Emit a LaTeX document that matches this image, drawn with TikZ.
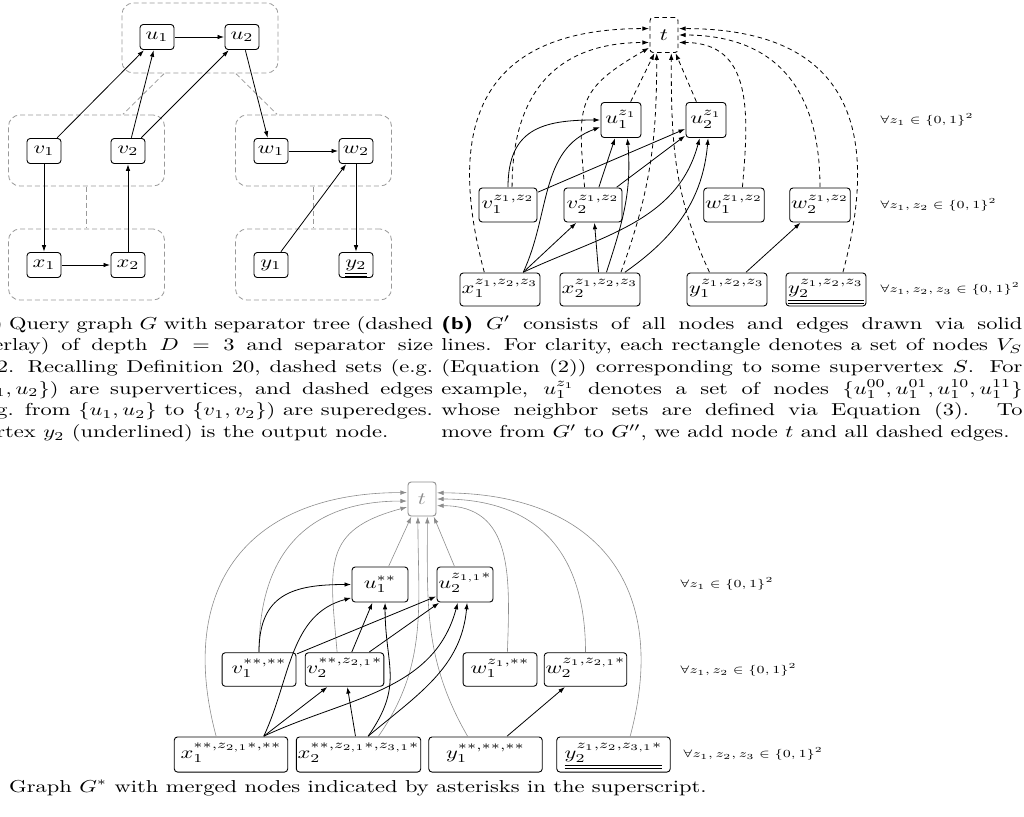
\documentclass[tikz,border=0pt]{standalone}
\usepackage{amsmath}
\usetikzlibrary{arrows.meta}
\definecolor{sepgray}{gray}{0.6}
\definecolor{tgray}{gray}{0.55}
\newcommand{\capfont}{\fontsize{10}{12}\selectfont}
\newcommand{\rowfont}{\fontsize{7}{8}\selectfont}
\newcommand{\sublabel}[1]{\textsf{\textbf{(#1)}}}
\newcommand{\capline}[4]{\node[capnode] at (#1,#2) {\makebox[#3][s]{#4}};}
\tikzset{
  vtx/.style={draw, line width=0.9pt, rounded corners=3.2pt, inner sep=0.6pt},
  sa/.style={vtx, minimum width=15.1pt, minimum height=14.5pt, text height=4.3pt, text depth=1.7pt},
  sbu/.style={vtx, minimum width=17.8pt, minimum height=20.3pt, text height=6.4pt, text depth=2.3pt},
  sbv/.style={vtx, minimum width=25.8pt, minimum height=19.7pt, text height=6.4pt, text depth=2.3pt},
  sbx/.style={vtx, minimum width=35.6pt, minimum height=19.1pt, text height=6.4pt, text depth=2.3pt},
  scu/.style={vtx, minimum width=24.9pt, minimum height=20.3pt, text height=6.4pt, text depth=2.3pt},
  scv/.style={vtx, minimum width=32.9pt, minimum height=19.4pt, text height=6.4pt, text depth=2.3pt},
  scx/.style={vtx, minimum width=50.5pt, minimum height=20.3pt, text height=6.4pt, text depth=2.3pt},
  tb/.style={vtx, dash pattern=on 4.5pt off 3.5pt, minimum width=12.5pt, minimum height=20.3pt},
  tc/.style={vtx, draw=tgray, text=tgray, minimum width=12.5pt, minimum height=19.7pt},
  sepbox/.style={draw=sepgray, line width=0.8pt, dash pattern=on 5pt off 3pt, rounded corners=11.5pt, minimum width=69.5pt, minimum height=41.1pt},
  sepline/.style={draw=sepgray, line width=0.8pt, dash pattern=on 5pt off 3pt},
  arr/.style={->, line width=0.8pt},
  tarr/.style={->, line width=0.8pt, dash pattern=on 4.5pt off 3.5pt},
  garr/.style={->, line width=0.6pt, draw=tgray},
  rowlab/.style={anchor=west, inner sep=0pt, font=\rowfont, scale=0.9},
  capnode/.style={anchor=base west, inner sep=0pt},
}
\begin{document}
\begin{tikzpicture}[x=1pt, y=-1pt, font=\capfont,
  every node/.append style={xscale=2.246, yscale=1.728},
  >={Latex[length=6.5pt,width=4.5pt]}]
\useasboundingbox (0,0) rectangle (1024,816);
\clip (0,0) rectangle (1024,816);

% (a) separator tree
\node[sepbox, minimum height=40.5pt] (sepU) at (200,38) {};
\node[sepbox] (sepV) at (86.5,150.5) {};
\node[sepbox] (sepW) at (313.5,150.5) {};
\node[sepbox] (sepX) at (86.5,264.5) {};
\node[sepbox] (sepY) at (313.5,264.5) {};
\draw[sepline] (sepU) -- (sepV);
\draw[sepline] (sepU) -- (sepW);
\draw[sepline] (sepV) -- (sepX);
\draw[sepline] (sepW) -- (sepY);

% (a) query graph
\node[sa] (u1) at (157,37) {$u_1$};
\node[sa] (u2) at (242,37) {$u_2$};
\node[sa] (v1) at (44,151) {$v_1$};
\node[sa] (v2) at (128,151) {$v_2$};
\node[sa] (w1) at (271,151) {$w_1$};
\node[sa] (w2) at (356,151) {$w_2$};
\node[sa] (x1) at (44,265) {$x_1$};
\node[sa] (x2) at (128,265) {$x_2$};
\node[sa] (y1) at (271,265) {$y_1$};
\node[sa] (y2) at (356,265) {$\underline{\underline{y_2}}$};
\draw[arr] (u1) -- (u2);
\draw[arr] (v1) -- (u1);
\draw[arr] (v2) -- (u1);
\draw[arr] (v2) -- (u2);
\draw[arr] (u2) -- (w1);
\draw[arr] (w1) -- (w2);
\draw[arr] (v1) -- (x1);
\draw[arr] (x2) -- (v2);
\draw[arr] (x1) -- (x2);
\draw[arr] (y1) -- (w2);
\draw[arr] (w2) -- (y2);

% (b) G' and G''
\node[tb] (bt) at (664,35) {$t$};
\node[sbu] (bu1) at (621,120) {$u_1^{z_1}$};
\node[sbu] (bu2) at (706,120) {$u_2^{z_1}$};
\node[sbv] (bv1) at (508,205) {$v_1^{z_1,z_2}$};
\node[sbv] (bv2) at (593,205) {$v_2^{z_1,z_2}$};
\node[sbv] (bw1) at (734,205) {$w_1^{z_1,z_2}$};
\node[sbv] (bw2) at (820,205) {$w_2^{z_1,z_2}$};
\node[sbx] (bx1) at (500,289.5) {$x_1^{z_1,z_2,z_3}$};
\node[sbx] (bx2) at (600,289.5) {$x_2^{z_1,z_2,z_3}$};
\node[sbx] (by1) at (727,289.5) {$y_1^{z_1,z_2,z_3}$};
\node[sbx] (by2) at (826,289.5) {$\underline{\underline{y_2^{z_1,z_2,z_3}}}$};
\node[rowlab] (brow1) at (880,120) {$\forall z_1 \in \{0,1\}^2$};
\node[rowlab] (brow2) at (880,205) {$\forall z_1, z_2 \in \{0,1\}^2$};
\node[rowlab] (brow3) at (880,289) {$\forall z_1, z_2, z_3 \in \{0,1\}^2$};
% solid edges
\draw[arr] (bv1.north) to[out=90,in=180,looseness=1.3] (bu1.west);
\draw[arr] (bv1) -- (bu2);
\draw[arr] (bv2) -- (bu1);
\draw[arr] (bv2) -- (bu2);
\draw[arr] (bx1.44) to[out=65,in=200] (bu1.204);
\draw[arr] (bx1.44) -- (bv2.234);
\draw[arr] (bx1.44) to[out=25,in=-105] (bu2.255);
\draw[arr] (bx2) -- (bv2);
\draw[arr] (bx2.74) to[out=72,in=-85] (bu1.285);
\draw[arr] (bx2.42) to[out=35,in=-95] (bu2.275);
\draw[arr] (by1) -- (bw2);
% dashed edges into t
\draw[tarr] (bx1.125) to[out=105,in=180,looseness=1.4] (bt.151);
\draw[tarr] (bv1.80) to[out=90,in=180,looseness=1.2] (bt.213);
\draw[tarr] (bv2.110) to[out=95,in=210,looseness=1.4] (bt.228);
\draw[tarr] (bu1.68) -- (bt.248);
\draw[tarr] (bx2.47) to[out=70,in=-90] (bt.253);
\draw[tarr] (by1.128) to[out=115,in=-90] (bt.287);
\draw[tarr] (bu2.112) -- (bt.296);
\draw[tarr] (bw1.70) to[out=85,in=0,looseness=1.2] (bt.327);
\draw[tarr] (bw2.north) to[out=90,in=0,looseness=1.2] (bt.east);
\draw[tarr] (by2.53) to[out=75,in=0,looseness=1.4] (bt.29);

% (c) G*
\node[tc] (ct) at (422,499) {$t$};
\node[scu] (cu1) at (380,584.5) {$u_1^{**}$};
\node[scu] (cu2) at (465,584.5) {$u_2^{z_{1,1}*}$};
\node[scv] (cv1) at (259,669.5) {$v_1^{**,**}$};
\node[scv] (cv2) at (344.5,669.5) {$v_2^{**,z_{2,1}*}$};
\node[scv] (cw1) at (500,669.5) {$w_1^{z_1,**}$};
\node[scv] (cw2) at (585.5,669.5) {$w_2^{z_1,z_{2,1}*}$};
\node[scx] (cx1) at (231,754.5) {$x_1^{**,z_{2,1}*,**}$};
\node[scx] (cx2) at (358.5,754.5) {$x_2^{**,z_{2,1}*,z_{3,1}*}$};
\node[scx] (cy1) at (485.5,754.5) {$y_1^{**,**,**}$};
\node[scx] (cy2) at (613.5,754.5) {$\underline{\underline{y_2^{z_1,z_2,z_{3,1}*}}}$};
\node[rowlab] (crow1) at (680,584) {$\forall z_1 \in \{0,1\}^2$};
\node[rowlab] (crow2) at (680,670) {$\forall z_1, z_2 \in \{0,1\}^2$};
\node[rowlab] (crow3) at (683,754) {$\forall z_1, z_2, z_3 \in \{0,1\}^2$};
% grey edges into t
\draw[garr] (cx1.122) to[out=105,in=180,looseness=1.3] (ct.151);
\draw[garr] (cv1.north) to[out=90,in=180,looseness=1.2] (ct.190);
\draw[garr] (cv2.108) to[out=95,in=195,looseness=1.4] (ct.215);
\draw[garr] (cu1.70) -- (ct.245);
\draw[garr] (cx2.50) to[out=55,in=-90] (ct.260);
\draw[garr] (cy1.127) to[out=120,in=-90] (ct.283);
\draw[garr] (cu2.114) -- (ct.297);
\draw[garr] (cw1.72) to[out=88,in=0,looseness=1.2] (ct.330);
\draw[garr] (cw2.north) to[out=90,in=0,looseness=1.2] (ct.east);
\draw[garr] (cy2.55) to[out=75,in=0,looseness=1.3] (ct.28);
% black edges
\draw[arr] (cv1.north) to[out=90,in=180,looseness=1.3] (cu1.west);
\draw[arr] (cv1) -- (cu2);
\draw[arr] (cv2) -- (cu1);
\draw[arr] (cv2) -- (cu2);
\draw[arr] (cx1.36) to[out=65,in=195] (cu1.211);
\draw[arr] (cx1.36) -- (cv2.233);
\draw[arr] (cx1.36) to[out=25,in=-105] (cu2.253);
\draw[arr] (cx2) -- (cv2);
\draw[arr] (cx2.68) to[out=55,in=-90,looseness=1.2] (cu1.282);
\draw[arr] (cx2.68) to[out=40,in=-95] (cu2.275);
\draw[arr] (cy1) -- (cw2);

% captions
\capline{-29}{329}{205.5pt}{\sublabel{a} Query graph $G$ with separator tree (dashed}
\capline{-29}{350.7}{205.5pt}{overlay) of depth $D = 3$ and separator size}
\capline{-29}{372.4}{205.5pt}{$\leq 2$. Recalling Definition 20, dashed sets (e.g.}
\capline{-29}{394.1}{205.5pt}{$\{u_1, u_2\}$) are supervertices, and dashed edges}
\capline{-29}{415.8}{205.5pt}{(e.g. from $\{u_1, u_2\}$ to $\{v_1, v_2\}$) are superedges.}
\node[capnode] (capa) at (-29,437.5) {Vertex $y_2$ (underlined) is the output node.};
\capline{441}{329}{258.7pt}{\sublabel{b} $G'$ consists of all nodes and edges drawn via solid}
\capline{441}{350.7}{258.7pt}{lines. For clarity, each rectangle denotes a set of nodes $V_S$}
\capline{441}{372.4}{258.7pt}{(Equation (2)) corresponding to some supervertex $S$. For}
\capline{441}{394.1}{258.7pt}{example, $u_1^{z_1}$ denotes a set of nodes $\{u_1^{00}, u_1^{01}, u_1^{10}, u_1^{11}\}$}
\capline{441}{415.8}{258.7pt}{whose neighbor sets are defined via Equation (3). To}
\node[capnode] (capb) at (441,437.5) {move from $G'$ to $G''$, we add node $t$ and all dashed edges.};
\node[capnode] (capc) at (-29,792) {\sublabel{c} Graph $G^*$ with merged nodes indicated by asterisks in the superscript.};
\end{tikzpicture}
\end{document}
